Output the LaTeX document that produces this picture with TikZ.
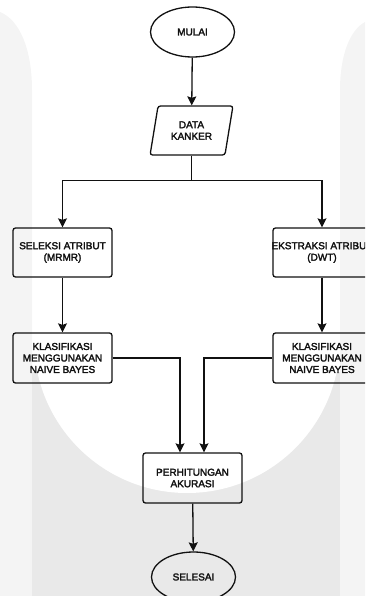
\documentclass[tikz,border=0pt]{standalone}
\usepackage{fontspec}
\setmainfont{Liberation Sans}
\newfontfamily\tulisan[FakeBold=2.5]{Liberation Sans}
\usetikzlibrary{arrows.meta,shapes.geometric,calc}
\definecolor{hitam}{HTML}{111111}
\definecolor{latar}{HTML}{F4F4F4}
\definecolor{latarg}{HTML}{E9E9E9}
\tikzset{
  huruf/.style={text=hitam,font=\tulisan\fontsize{10}{11.5}\selectfont,align=center,inner sep=0pt},
  kotak/.style={huruf,draw=hitam,line width=1.3pt,rounded corners=2.5pt,minimum width=99pt,minimum height=49pt},
  oval/.style={huruf,ellipse,draw=hitam,line width=1.3pt,minimum width=84pt,minimum height=50pt},
  jajar/.style={huruf,trapezium,trapezium left angle=75,trapezium right angle=105,trapezium stretches=true,draw=hitam,line width=1.3pt,rounded corners=2.5pt,minimum width=83pt,minimum height=49pt},
  panah/.style={-{Stealth[length=9pt,width=9pt,inset=1.5pt]},hitam,line width=1.3pt},
  garis/.style={hitam,line width=1.3pt},
}

\begin{document}
\begin{tikzpicture}[x=1pt,y=-1pt]
  \useasboundingbox (0,0) rectangle (365,596);
  \clip (0,0) rectangle (365,596);
  % latar (watermark)
  \fill[latar] (0,12) .. controls (20,20) and (32,50) .. (32,90) -- (32,596) -- (0,596) -- cycle;
  \fill[latar] (365,22) .. controls (350,30) and (340,55) .. (340,90) -- (340,596) -- (365,596) -- cycle;
  \fill[latarg] (32,372) rectangle (340,596);
  \fill[white] (187,340) circle[radius=153pt];

  \node[oval] (mulai) at (192.5,32) {MULAI};
  \node[jajar] (data) at (191.5,130.5) {DATA\\KANKER};
  \node[kotak] (seleksi) at (62.5,252.5) {SELEKSI ATRIBUT\\(MRMR)};
  \node[kotak,minimum width=98pt] (ekstraksi) at (322,252.5) {\makebox[0pt]{EKSTRAKSI ATRIBUT}\\(DWT)};
  \node[kotak,minimum height=50pt] (klas1) at (62.5,358) {KLASIFIKASI\\MENGGUNAKAN\\NAIVE BAYES};
  \node[kotak,minimum width=98pt,minimum height=50pt] (klas2) at (322,358) {KLASIFIKASI\\MENGGUNAKAN\\NAIVE BAYES};
  \node[kotak,minimum height=50pt] (hitung) at (192.5,478) {PERHITUNGAN\\AKURASI};
  \node[oval] (selesai) at (193.5,577) {SELESAI};

  \draw[panah] (mulai) -- (data);
  \draw[garis] (data.south) -- ++(0,25) coordinate (cabang);
  \draw[panah] (cabang) -| (seleksi.north);
  \draw[panah] (cabang) -| (ekstraksi.north);
  \draw[panah] (seleksi) -- (klas1);
  \draw[panah] (ekstraksi) -- (klas2);
  \draw[panah] (klas1.east) -| ([xshift=-12.5pt]hitung.north);
  \draw[panah] (klas2.west) -| ([xshift=11.5pt]hitung.north);
  \draw[panah] (hitung) -- (selesai);
\end{tikzpicture}
\end{document}
